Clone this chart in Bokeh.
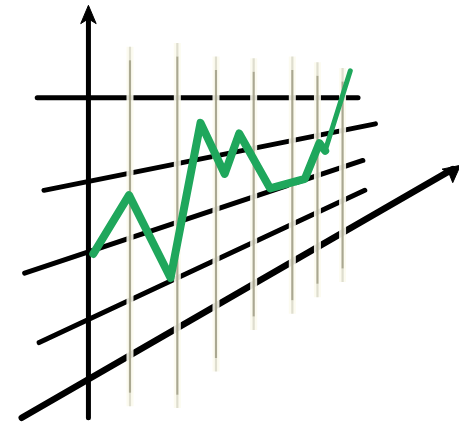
from bokeh.plotting import figure
from bokeh.models import Range1d
from bokeh.embed import file_html
from bokeh.resources import INLINE

# ---- data (in picture pixel units) ----
# vertical (beige) grid lines
grid_x = [134, 183, 223, 262, 302, 328, 354]
grid_top = [48, 44, 58, 60, 58, 64, 70]
grid_bottom = [421, 423, 385, 342, 325, 308, 292]

# black perspective lines: start/end points
line_x0 = [38, 45, 25, 40, 22]
line_y0 = [101, 197, 283, 355, 433]
line_x1 = [370, 388, 375, 377, 468]
line_y1 = [101, 128, 166, 197, 175]
line_w = [5, 5, 5, 5, 6.5]

# vertical axis
axis_x = [91, 91]
axis_y = [433, 20]

# green series
series_x = [96, 133, 176, 207, 232, 247, 279, 315, 330, 336, 362]
series_y = [263, 202, 288, 127, 180, 138, 195, 185, 148, 156, 73]

GREEN = "#1fa75c"

p = figure(width=459, height=424, output_backend="svg", toolbar_location=None,
           x_range=Range1d(0, 475), y_range=Range1d(440, 0), min_border=0)
p.axis.visible = False
p.grid.visible = False
p.outline_line_color = None
p.background_fill_color = "white"

# black lines
for x0, y0, x1, y1, w in zip(line_x0, line_y0, line_x1, line_y1, line_w):
    p.line([x0, x1], [y0, y1], line_width=w, line_color="black", line_cap="round")
p.line(axis_x, axis_y, line_width=5, line_color="black", line_cap="round")

# arrow heads
p.patch([91, 83, 91, 99], [5, 24, 19, 24], fill_color="black", line_color="black", line_width=1)
p.patch([476, 457, 464, 468], [171, 175, 179, 189], fill_color="black", line_color="black", line_width=1)

# grid lines with soft halo and faded ends
for gx, gt, gb in zip(grid_x, grid_top, grid_bottom):
    fade = 14
    p.line([gx, gx], [gt, gb], line_width=7, line_color="#fcfbee", line_alpha=0.9)
    p.line([gx, gx], [gt + fade, gb - fade], line_width=2.2, line_color="#aaa891")
    p.line([gx, gx], [gt, gt + fade], line_width=2.2, line_color="#aaa891", line_alpha=0.35)
    p.line([gx, gx], [gb - fade, gb], line_width=2.2, line_color="#aaa891", line_alpha=0.35)

# green series line
p.line(series_x[:-1], series_y[:-1], line_width=8, line_color=GREEN, line_join="round", line_cap="round")
p.line(series_x[-2:], series_y[-2:], line_width=5, line_color=GREEN, line_cap="round")

open("out.html", "w").write(file_html(p, INLINE))
